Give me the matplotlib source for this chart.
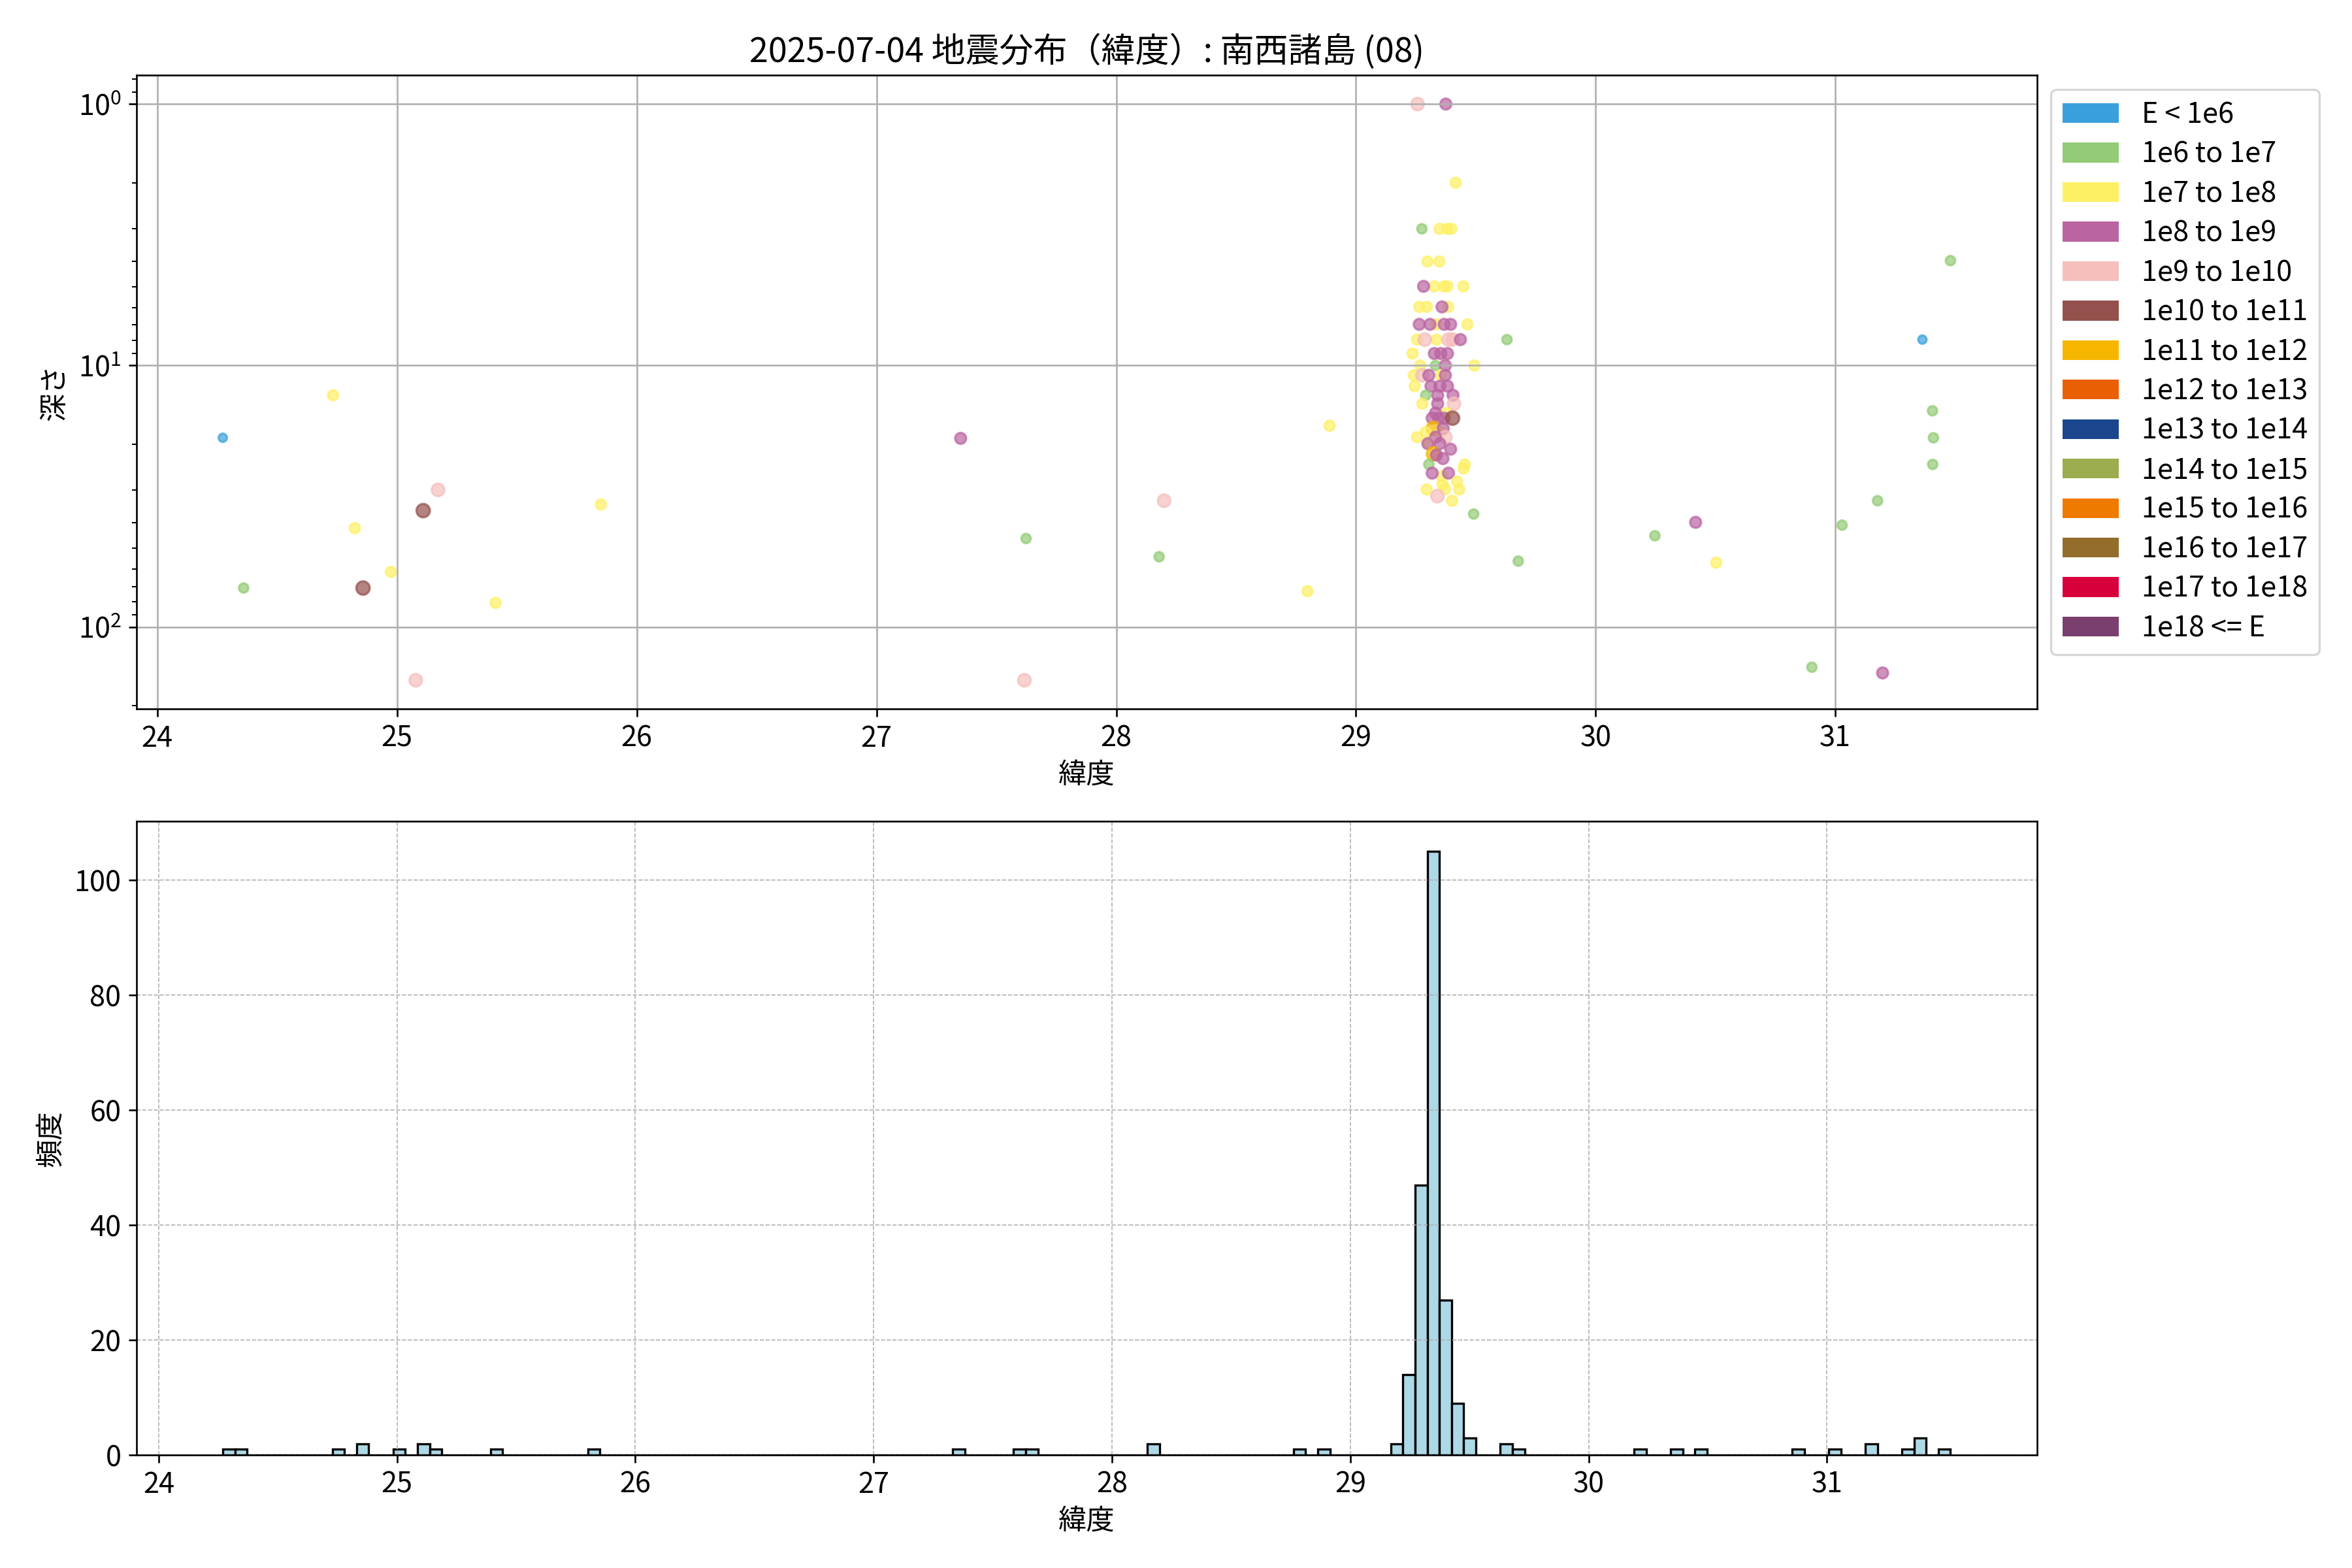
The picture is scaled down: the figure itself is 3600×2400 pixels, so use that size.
import numpy as np
import matplotlib
matplotlib.use('Agg')
import matplotlib.pyplot as plt
from matplotlib.patches import Patch

plt.rcParams['font.family'] = ['Noto Sans CJK JP', 'DejaVu Sans']
plt.rcParams['font.size'] = 13

# energy classes (legend)
class_labels = ['E < 1e6', '1e6 to 1e7', '1e7 to 1e8', '1e8 to 1e9', '1e9 to 1e10',
                '1e10 to 1e11', '1e11 to 1e12', '1e12 to 1e13', '1e13 to 1e14',
                '1e14 to 1e15', '1e15 to 1e16', '1e16 to 1e17', '1e17 to 1e18', '1e18 <= E']
class_colors = ['#3aa0dc', '#93cb76', '#fef064', '#ba64a2', '#f5bfbc', '#94504c', '#f6b600',
                '#e95f04', '#1b468d', '#9bad4e', '#ef7a00', '#946c2c', '#d7003a', '#7a3f6e']
class_sizes = [15, 19, 22, 26, 34, 38, 38, 41, 44, 47, 50, 53, 56, 59]

# scatter data: latitude, depth (km), energy class
lat = [24.273, 24.733, 24.360, 24.824, 24.858, 24.974, 25.109, 25.171, 25.411, 25.078, 25.850,
       27.351, 27.624, 27.617, 28.200, 28.179, 28.890, 28.798,
       31.480, 31.363, 31.405, 31.409, 31.406, 31.176, 31.028, 30.417, 30.247, 30.503, 30.902, 31.197,
       29.491, 29.677, 29.630,
       29.257, 29.375, 29.416, 29.275, 29.349, 29.381, 29.398, 29.298, 29.348,
       29.327, 29.282, 29.368, 29.382, 29.448,
       29.264, 29.296, 29.385, 29.359,
       29.336, 29.465, 29.264, 29.309, 29.368, 29.395,
       29.255, 29.336, 29.287, 29.386, 29.404, 29.436,
       29.236, 29.327, 29.354, 29.382,
       29.268, 29.494, 29.332, 29.373,
       29.241, 29.354, 29.277, 29.304, 29.373,
       29.245, 29.313, 29.350, 29.382,
       29.291, 29.341, 29.405,
       29.277, 29.341, 29.409,
       29.377, 29.332,
       29.318, 29.345, 29.368, 29.403,
       29.323, 29.355, 29.291, 29.364,
       29.255, 29.373, 29.332,
       29.304, 29.300, 29.350,
       29.395, 29.323, 29.336, 29.363,
       29.304, 29.454, 29.449,
       29.358, 29.318, 29.386,
       29.361, 29.422, 29.295, 29.372, 29.431, 29.340, 29.401]
depth = [18.9, 13.0, 71, 41.9, 71, 61.6, 35.9, 29.9, 80.9, 160, 34,
         19.0, 45.9, 160, 32.9, 53.9, 17, 73,
         3.97, 7.96, 14.9, 18.9, 23.9, 32.9, 40.8, 39.8, 44.8, 56.8, 142.6, 150,
         37.0, 56, 7.96,
         1.0, 1.0, 2.0, 3.0, 3.0, 3.0, 3.0, 4.0, 4.0,
         4.98, 4.98, 4.98, 4.98, 4.98,
         5.97, 5.97, 5.97, 5.97,
         6.96, 6.96, 6.96, 6.96, 6.96, 6.96,
         7.96, 7.96, 7.96, 7.96, 7.96, 7.96,
         9.0, 9.0, 9.0, 9.0,
         10.0, 10.0, 10.0, 10.0,
         10.9, 10.9, 10.9, 10.9, 10.9,
         12.0, 12.0, 12.0, 12.0,
         13.0, 13.0, 13.0,
         14.0, 14.0, 14.0,
         15.2, 15.2,
         15.9, 15.9, 15.9, 15.9,
         17.4, 18.0, 18.0, 17.4,
         18.8, 18.8, 18.8,
         19.9, 19.9, 19.9,
         20.9, 21.8, 22.0, 22.7,
         23.9, 23.9, 24.8,
         26.5, 25.8, 25.8,
         28.5, 27.8, 29.8, 29.7, 29.8, 31.6, 32.9]
e_class = [0, 2, 1, 2, 5, 2, 5, 4, 2, 4, 2,
           3, 1, 4, 4, 1, 2, 2,
           1, 0, 1, 1, 1, 1, 1, 3, 1, 2, 1, 3,
           1, 1, 1,
           4, 3, 2, 1, 2, 2, 2, 2, 2,
           2, 3, 2, 2, 2,
           2, 2, 2, 3,
           2, 2, 3, 3, 3, 3,
           2, 2, 4, 4, 4, 3,
           2, 3, 3, 3,
           2, 2, 1, 3,
           2, 2, 4, 3, 3,
           2, 3, 3, 3,
           1, 3, 3,
           2, 3, 4,
           2, 3,
           3, 3, 3, 5,
           6, 2, 2, 3,
           2, 4, 3,
           2, 3, 3,
           3, 6, 3, 3,
           1, 2, 2,
           2, 3, 3,
           2, 2, 2, 2, 2, 4, 2]

# histogram of latitude (bar positions and counts)
hist_lat = [24.29, 24.35, 24.75, 24.86, 25.01, 25.11, 25.16, 25.42, 25.83,
            27.36, 27.61, 27.66, 28.17, 28.79, 28.89,
            29.20, 29.25, 29.30, 29.35, 29.40, 29.45, 29.50, 29.65, 29.71,
            30.22, 30.37, 30.47, 30.88, 31.03, 31.19, 31.34, 31.39, 31.49]
hist_count = [1, 1, 1, 2, 1, 2, 1, 1, 1,
              1, 1, 1, 2, 1, 1,
              2, 14, 47, 105, 27, 9, 3, 2, 1,
              1, 1, 1, 1, 1, 2, 1, 3, 1]
hist_range = (24.269, 31.518)
n_bins = 142

fig, (ax1, ax2) = plt.subplots(2, 1, figsize=(15, 10))
fig.subplots_adjust(left=0.058, right=0.866, top=0.952, bottom=0.072, hspace=0.177)

colors = [class_colors[c] for c in e_class]
sizes = [class_sizes[c] for c in e_class]
ax1.scatter(lat, depth, c=colors, s=sizes, alpha=0.7)
ax1.set_yscale('log')
ax1.invert_yaxis()
ax1.grid(True)
ax1.set_xlabel('緯度')
ax1.set_ylabel('深さ')
ax1.set_title('2025-07-04 地震分布（緯度）: 南西諸島 (08)')

handles = [Patch(facecolor=col, label=lab) for col, lab in zip(class_colors, class_labels)]
ax1.legend(handles=handles, loc='upper left', bbox_to_anchor=(1, 1), labelspacing=0.38)

ax2.hist(hist_lat, bins=n_bins, range=hist_range, weights=hist_count,
         color='lightblue', edgecolor='black')
ax2.grid(True, linestyle='--', linewidth=0.5)
ax2.set_xlabel('緯度')
ax2.set_ylabel('頻度')

fig.savefig('out.png', dpi=240)
